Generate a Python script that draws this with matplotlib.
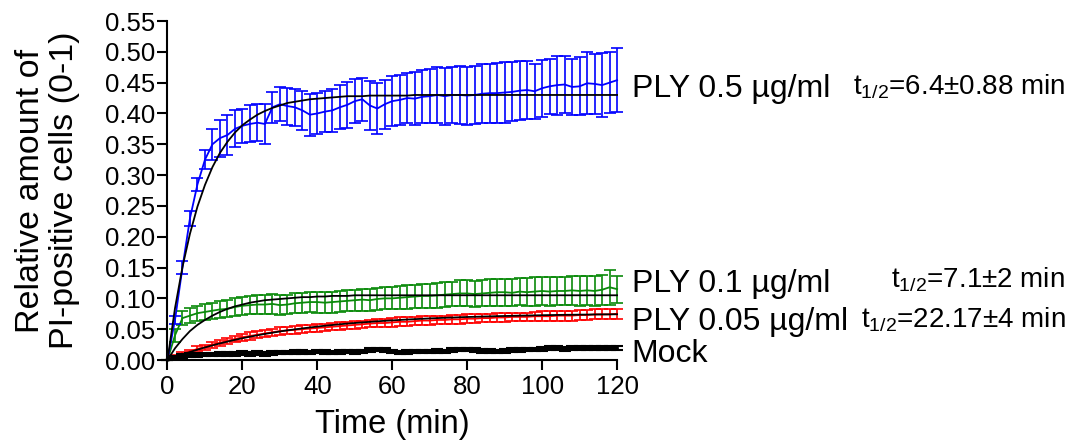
import numpy as np
import matplotlib
matplotlib.use('Agg')
import matplotlib.pyplot as plt

plt.rcParams['font.family'] = ['Liberation Sans', 'DejaVu Sans']
plt.rcParams['mathtext.fontset'] = 'custom'
plt.rcParams['mathtext.rm'] = 'Liberation Sans'
plt.rcParams['mathtext.default'] = 'regular'

# time points (min), one reading every 2 min
t = np.arange(0, 121, 2)

blue_mean = [0.0, 0.065, 0.15, 0.23, 0.285, 0.325, 0.35, 0.36, 0.365, 0.375,
             0.38, 0.383, 0.385, 0.383, 0.41, 0.415, 0.412, 0.41, 0.405, 0.398,
             0.40, 0.403, 0.405, 0.41, 0.414, 0.42, 0.423, 0.413, 0.408, 0.415,
             0.42, 0.422, 0.425, 0.424, 0.427, 0.428, 0.43, 0.428, 0.43, 0.43,
             0.429, 0.43, 0.432, 0.433, 0.433, 0.434, 0.435, 0.437, 0.438, 0.436,
             0.441, 0.444, 0.446, 0.447, 0.443, 0.444, 0.449, 0.448, 0.446, 0.45,
             0.454]
blue_err = [0.0, 0.006, 0.01, 0.012, 0.01, 0.015, 0.025, 0.03, 0.032, 0.03,
            0.028, 0.03, 0.03, 0.033, 0.025, 0.028, 0.03, 0.03, 0.032, 0.034,
            0.033, 0.033, 0.035, 0.036, 0.037, 0.036, 0.035, 0.04, 0.042, 0.04,
            0.04, 0.041, 0.041, 0.043, 0.043, 0.044, 0.045, 0.046, 0.046, 0.047,
            0.047, 0.047, 0.048, 0.048, 0.049, 0.049, 0.048, 0.048, 0.047, 0.045,
            0.046, 0.045, 0.048, 0.047, 0.045, 0.047, 0.05, 0.049, 0.052, 0.05,
            0.052]
blue_fit = [0.0, 0.084, 0.151, 0.205, 0.249, 0.284, 0.313, 0.336, 0.354, 0.369,
            0.381, 0.390, 0.398, 0.404, 0.409, 0.413, 0.417, 0.419, 0.421, 0.423,
            0.424, 0.425, 0.426, 0.427, 0.428, 0.428, 0.428, 0.429, 0.429, 0.429,
            0.429, 0.429, 0.429, 0.43, 0.43, 0.43, 0.43, 0.43, 0.43, 0.43,
            0.43, 0.43, 0.43, 0.43, 0.43, 0.43, 0.43, 0.43, 0.43, 0.43,
            0.43, 0.43, 0.43, 0.43, 0.43, 0.43, 0.43, 0.43, 0.43, 0.43,
            0.43]

green_mean = [0.0, 0.04, 0.068, 0.072, 0.076, 0.078, 0.08, 0.082, 0.083, 0.086,
              0.088, 0.089, 0.09, 0.09, 0.091, 0.089, 0.09, 0.092, 0.093, 0.094,
              0.094, 0.093, 0.094, 0.095, 0.096, 0.097, 0.098, 0.097, 0.099, 0.1,
              0.1, 0.101, 0.102, 0.103, 0.104, 0.104, 0.105, 0.106, 0.107, 0.108,
              0.108, 0.107, 0.108, 0.109, 0.11, 0.11, 0.109, 0.111, 0.11, 0.111,
              0.112, 0.111, 0.112, 0.112, 0.113, 0.112, 0.113, 0.112, 0.114, 0.118,
              0.115]
green_err = [0.0, 0.01, 0.012, 0.012, 0.012, 0.013, 0.013, 0.014, 0.014, 0.015,
             0.015, 0.015, 0.016, 0.016, 0.016, 0.016, 0.016, 0.016, 0.016, 0.016,
             0.017, 0.017, 0.017, 0.017, 0.017, 0.017, 0.018, 0.018, 0.018, 0.018,
             0.018, 0.019, 0.019, 0.019, 0.02, 0.02, 0.02, 0.02, 0.02, 0.021,
             0.021, 0.021, 0.021, 0.022, 0.022, 0.022, 0.022, 0.022, 0.023, 0.023,
             0.023, 0.023, 0.023, 0.023, 0.024, 0.024, 0.024, 0.024, 0.024, 0.028,
             0.022]
green_fit = [0.0, 0.019, 0.034, 0.047, 0.057, 0.065, 0.072, 0.078, 0.083, 0.087,
             0.090, 0.093, 0.095, 0.097, 0.098, 0.099, 0.100, 0.101, 0.102, 0.102,
             0.103, 0.103, 0.104, 0.104, 0.104, 0.105, 0.105, 0.105, 0.105, 0.105,
             0.105, 0.105, 0.105, 0.105, 0.105, 0.105, 0.105, 0.105, 0.105, 0.105,
             0.105, 0.105, 0.105, 0.105, 0.105, 0.105, 0.105, 0.105, 0.105, 0.105,
             0.105, 0.105, 0.105, 0.105, 0.105, 0.105, 0.105, 0.105, 0.105, 0.105,
             0.105]

red_mean = [0.0, 0.006, 0.01, 0.014, 0.018, 0.021, 0.025, 0.028, 0.031, 0.034,
            0.037, 0.039, 0.041, 0.043, 0.045, 0.047, 0.048, 0.049, 0.05, 0.051,
            0.052, 0.053, 0.054, 0.055, 0.056, 0.057, 0.058, 0.059, 0.06, 0.06,
            0.061, 0.062, 0.062, 0.063, 0.064, 0.064, 0.065, 0.065, 0.066, 0.066,
            0.067, 0.067, 0.068, 0.068, 0.069, 0.069, 0.07, 0.07, 0.07, 0.071,
            0.071, 0.071, 0.072, 0.072, 0.072, 0.073, 0.073, 0.074, 0.074, 0.074,
            0.075]
red_err = [0.0, 0.002, 0.003, 0.003, 0.004, 0.004, 0.005, 0.005, 0.005, 0.005,
           0.006, 0.006, 0.006, 0.006, 0.006, 0.006, 0.006, 0.006, 0.006, 0.006,
           0.006, 0.006, 0.006, 0.006, 0.006, 0.006, 0.006, 0.006, 0.006, 0.006,
           0.007, 0.007, 0.007, 0.007, 0.007, 0.007, 0.007, 0.007, 0.007, 0.007,
           0.007, 0.007, 0.007, 0.007, 0.007, 0.007, 0.007, 0.007, 0.007, 0.007,
           0.008, 0.008, 0.008, 0.008, 0.008, 0.008, 0.008, 0.008, 0.008, 0.008,
           0.008]
red_fit = [0.0, 0.0046, 0.0089, 0.0130, 0.0168, 0.0204, 0.0238, 0.0269, 0.0299, 0.0327,
           0.0353, 0.0378, 0.0401, 0.0423, 0.0443, 0.0463, 0.0481, 0.0497, 0.0513, 0.0528,
           0.0542, 0.0556, 0.0568, 0.0580, 0.0591, 0.0601, 0.0610, 0.0619, 0.0628, 0.0636,
           0.0643, 0.0650, 0.0657, 0.0663, 0.0669, 0.0675, 0.0680, 0.0685, 0.0689, 0.0694,
           0.0698, 0.0701, 0.0705, 0.0708, 0.0712, 0.0714, 0.0717, 0.0720, 0.0722, 0.0724,
           0.0727, 0.0729, 0.0731, 0.0733, 0.0734, 0.0736, 0.0737, 0.0739, 0.0740, 0.0741,
           0.0742]

mock_mean = [0.0, 0.004, 0.006, 0.008, 0.008, 0.009, 0.009, 0.01, 0.01, 0.01,
             0.011, 0.01, 0.011, 0.01, 0.011, 0.012, 0.012, 0.013, 0.013, 0.012,
             0.014, 0.013, 0.012, 0.013, 0.014, 0.013, 0.014, 0.016, 0.017, 0.016,
             0.014, 0.012, 0.013, 0.014, 0.014, 0.014, 0.015, 0.014, 0.016, 0.017,
             0.017, 0.016, 0.015, 0.015, 0.014, 0.015, 0.016, 0.016, 0.017, 0.017,
             0.018, 0.019, 0.019, 0.018, 0.019, 0.02, 0.019, 0.019, 0.02, 0.019,
             0.02]
mock_err = [0.0] + [0.003] * 60

labels = ['PLY 0.5 µg/ml', 'PLY 0.1 µg/ml', 'PLY 0.05 µg/ml', 'Mock']
half_lives = ['t$_{1/2}$=6.4±0.88 min', 't$_{1/2}$=7.1±2 min', 't$_{1/2}$=22.17±4 min']

fig = plt.figure(figsize=(10.73, 4.45), dpi=100)
ax = fig.add_axes([0.1561, 0.191, 0.419, 0.7618])

ekw = dict(lw=1.3, elinewidth=1.2, capsize=4, capthick=1.2, clip_on=False)
ax.errorbar(t, green_mean, yerr=green_err, color='#0a8a0a', zorder=2, **ekw)
ax.errorbar(t, red_mean, yerr=red_err, color='#ff0000', zorder=3, **ekw)
ax.errorbar(t, blue_mean, yerr=blue_err, color='#0000ff', zorder=4, **ekw)
ax.errorbar(t, mock_mean, yerr=mock_err, color='black', lw=2.5, elinewidth=1.5,
            capsize=4, capthick=1.5, clip_on=False, zorder=5)

for fit in (blue_fit, green_fit, red_fit):
    ax.plot(t, fit, color='black', lw=1.3, zorder=6, clip_on=False)

ax.set_xlim(0, 120)
ax.set_ylim(0, 0.55)
ax.set_xticks(np.arange(0, 121, 20))
ax.set_yticks(np.arange(0, 0.551, 0.05))
ax.yaxis.set_major_formatter(matplotlib.ticker.FormatStrFormatter('%.2f'))
ax.spines['top'].set_visible(False)
ax.spines['right'].set_visible(False)
for s in ('left', 'bottom'):
    ax.spines[s].set_linewidth(1.5)
ax.tick_params(direction='out', length=7, width=1.5, labelsize=18.5)
ax.tick_params(axis='x', pad=4)
ax.tick_params(axis='y', pad=2)

ax.set_xlabel('Time (min)', fontsize=23.5, labelpad=7)
ax.set_ylabel('Relative amount of\nPI-positive cells (0-1)', fontsize=24.5,
              labelpad=18, linespacing=1.1)

# series labels to the right of the axes
lab_y = [0.4267, 0.110, 0.0487, -0.003]
for txt, y in zip(labels, lab_y):
    ax.text(123.9, y, txt, fontsize=23, va='baseline', ha='left', clip_on=False)

hl_y = [0.430, 0.117, 0.052]
for txt, y in zip(half_lives, hl_y):
    ax.text(239.6, y, txt, fontsize=20, va='baseline', ha='right', clip_on=False)

fig.savefig('out.png', dpi=100)
